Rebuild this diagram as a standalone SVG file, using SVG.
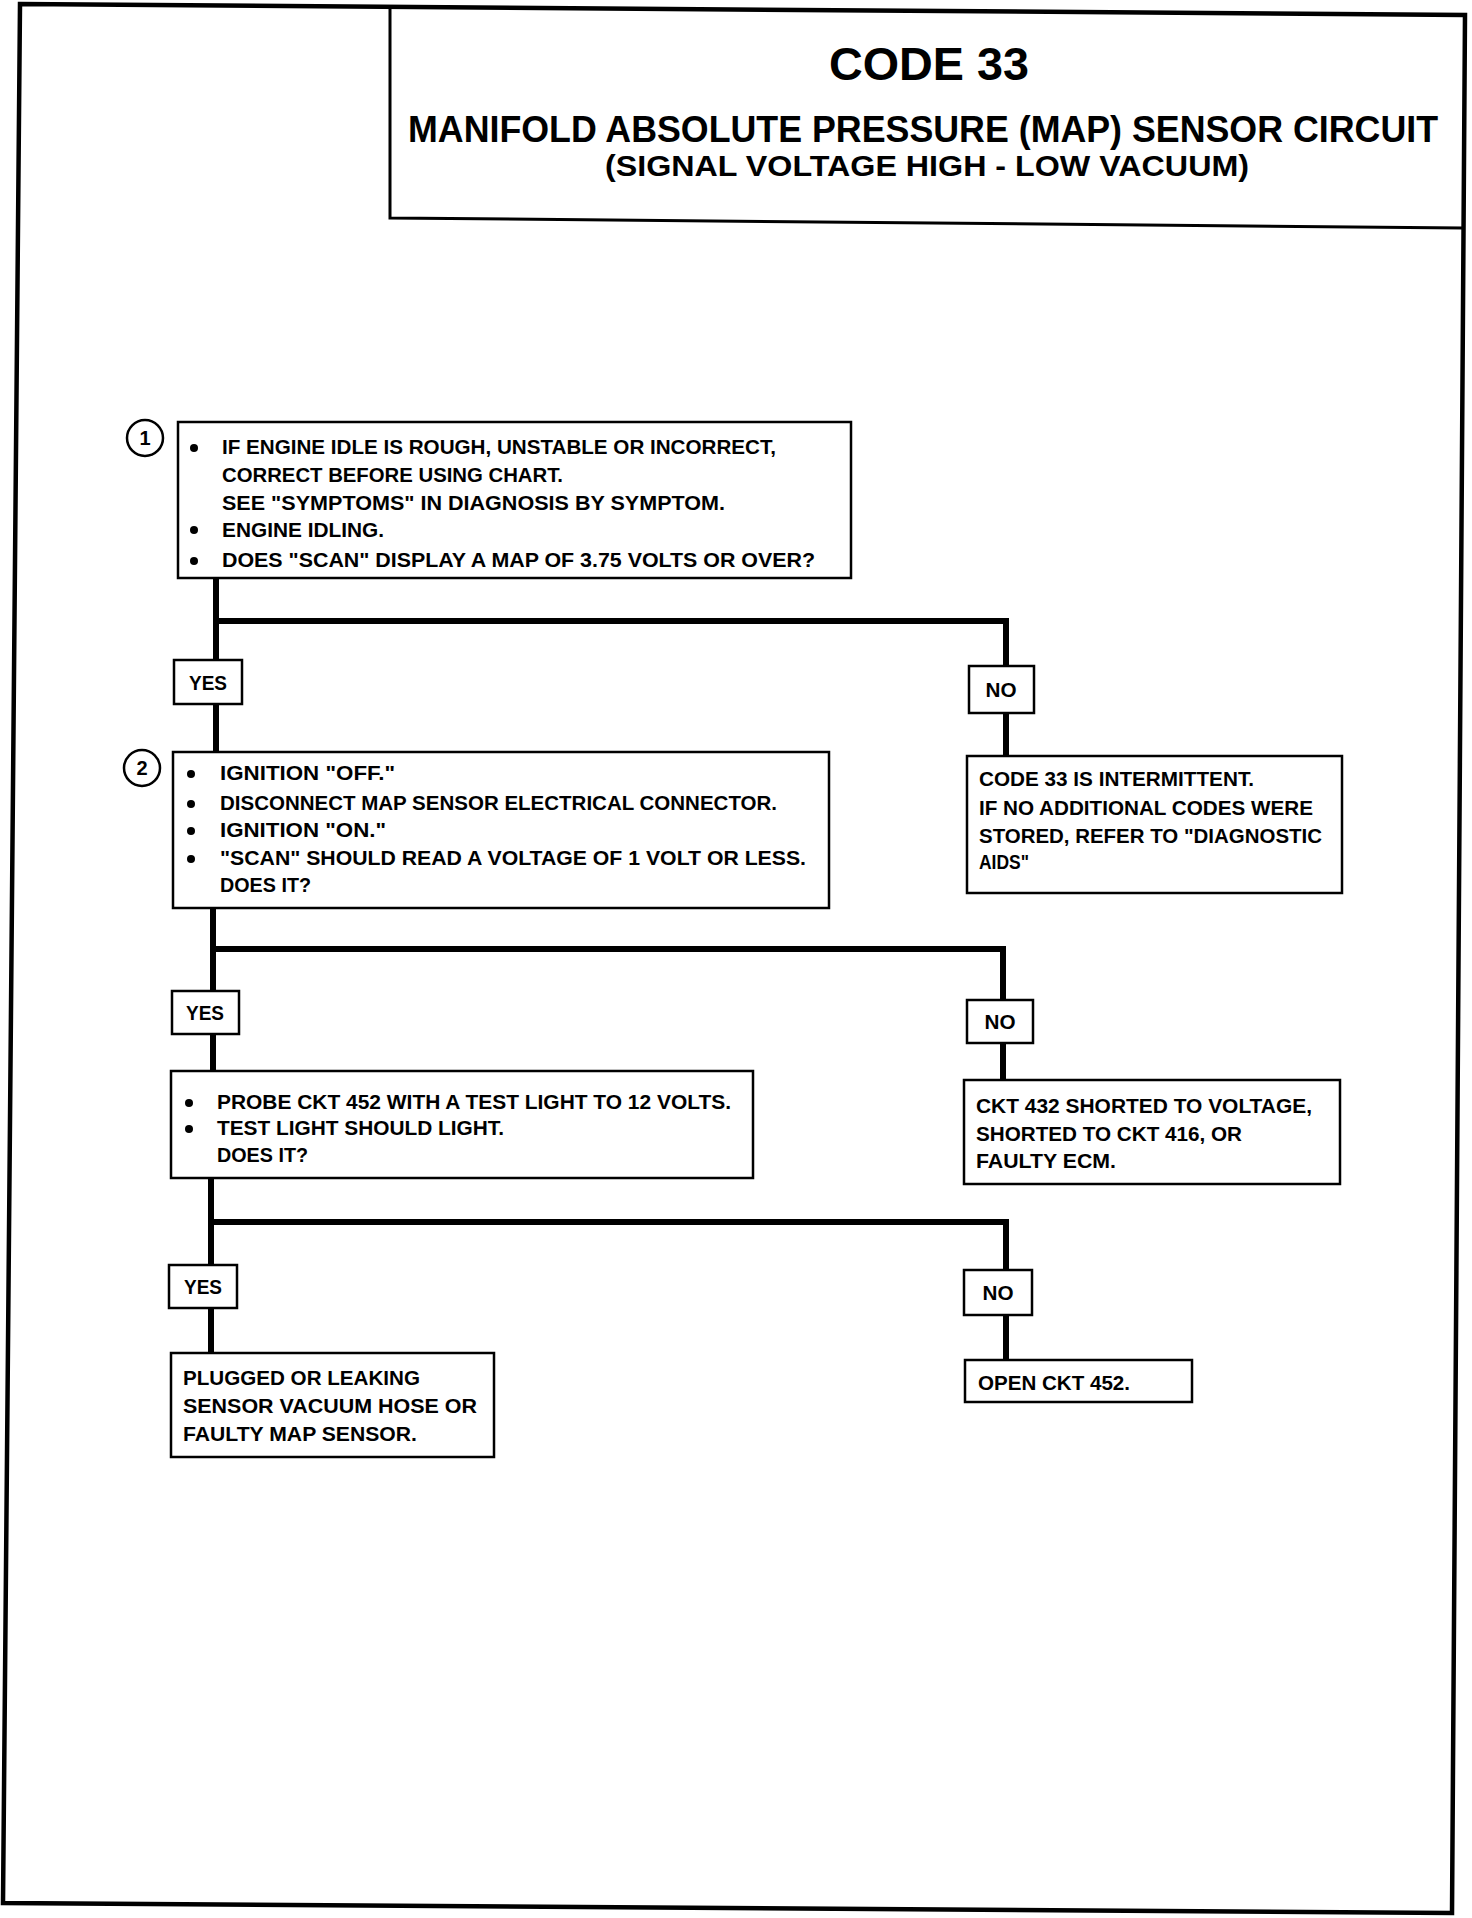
<svg xmlns="http://www.w3.org/2000/svg" width="1472" height="1918" viewBox="0 0 1472 1918">
<style>
.box{fill:#fff;stroke:#000;stroke-width:2.5}
.lbl{fill:#fff;stroke:#000;stroke-width:2.5}
.con{fill:none;stroke:#000;stroke-width:6;stroke-linejoin:miter}
.t{font-family:"Liberation Sans",Arial,sans-serif;font-weight:bold;font-size:20px;fill:#000}
.c{text-anchor:middle}
.h{font-family:"Liberation Sans",Arial,sans-serif;font-weight:bold;fill:#000}
.num{fill:#fff;stroke:#000;stroke-width:2.5}
</style>
<rect width="1472" height="1918" fill="#fff"/>
<g id="frame">
<path d="M20,4 L1465,15 L1452,1913 L3,1903 Z" fill="none" stroke="#000" stroke-width="4.5"/>
</g>
<g id="header">
<path d="M390,9 L390,218 L1463,228" fill="none" stroke="#000" stroke-width="3"/>
<text class="h c" x="929" y="80" font-size="46" textLength="200" lengthAdjust="spacingAndGlyphs">CODE 33</text>
<text class="h" x="408" y="142" font-size="37" textLength="1030" lengthAdjust="spacingAndGlyphs">MANIFOLD ABSOLUTE PRESSURE (MAP) SENSOR CIRCUIT</text>
<text class="h" x="605" y="176" font-size="29" textLength="644" lengthAdjust="spacingAndGlyphs">(SIGNAL VOLTAGE HIGH - LOW VACUUM)</text>
</g>
<g id="connectors">
<path class="con" d="M216,578 L216,660 M216,704 L216,752 M216,621 L1006,621 L1006,666 M1006,713 L1006,756"/>
<path class="con" d="M213,908 L213,991 M213,1034 L213,1071 M213,949 L1003,949 L1003,1000 M1003,1043 L1003,1080"/>
<path class="con" d="M211,1178 L211,1265 M211,1308 L211,1353 M211,1222 L1006,1222 L1006,1270 M1006,1315 L1006,1360"/>
</g>
<g id="step1">
<circle class="num" cx="145" cy="438" r="18"/>
<text class="t c" x="145" y="445" font-size="19">1</text>
<rect class="box" x="178" y="422" width="673" height="156"/>
<circle cx="194" cy="448" r="4"/><circle cx="194" cy="530" r="4"/><circle cx="194" cy="561" r="4"/>
<text class="t" x="222" y="454" textLength="554" lengthAdjust="spacingAndGlyphs">IF ENGINE IDLE IS ROUGH, UNSTABLE OR INCORRECT,</text>
<text class="t" x="222" y="482" textLength="341" lengthAdjust="spacingAndGlyphs">CORRECT BEFORE USING CHART.</text>
<text class="t" x="222" y="510" textLength="503" lengthAdjust="spacingAndGlyphs">SEE "SYMPTOMS" IN  DIAGNOSIS BY SYMPTOM.</text>
<text class="t" x="222" y="537" textLength="162" lengthAdjust="spacingAndGlyphs">ENGINE IDLING.</text>
<text class="t" x="222" y="567" textLength="593" lengthAdjust="spacingAndGlyphs">DOES "SCAN" DISPLAY A MAP OF 3.75  VOLTS OR OVER?</text>
</g>
<g id="yes1">
<rect class="lbl" x="174" y="660" width="68" height="44"/>
<text class="t c" x="208" y="690" textLength="38" lengthAdjust="spacingAndGlyphs">YES</text>
</g>
<g id="no1">
<rect class="lbl" x="969" y="666" width="65" height="47"/>
<text class="t c" x="1001" y="697" textLength="31" lengthAdjust="spacingAndGlyphs">NO</text>
</g>
<g id="step2">
<circle class="num" cx="142" cy="768" r="18"/>
<text class="t c" x="142" y="775" font-size="19">2</text>
<rect class="box" x="173" y="752" width="656" height="156"/>
<circle cx="191" cy="774" r="4"/><circle cx="191" cy="804" r="4"/><circle cx="191" cy="831" r="4"/><circle cx="191" cy="859" r="4"/>
<text class="t" x="220" y="780" textLength="175" lengthAdjust="spacingAndGlyphs">IGNITION "OFF."</text>
<text class="t" x="220" y="810" textLength="557" lengthAdjust="spacingAndGlyphs">DISCONNECT MAP SENSOR ELECTRICAL CONNECTOR.</text>
<text class="t" x="220" y="837" textLength="166" lengthAdjust="spacingAndGlyphs">IGNITION "ON."</text>
<text class="t" x="220" y="865" textLength="586" lengthAdjust="spacingAndGlyphs">"SCAN" SHOULD READ  A VOLTAGE OF 1 VOLT OR LESS.</text>
<text class="t" x="220" y="892" textLength="91" lengthAdjust="spacingAndGlyphs">DOES IT?</text>
</g>
<g id="intermittent">
<rect class="box" x="967" y="756" width="375" height="137"/>
<text class="t" x="979" y="786" textLength="275" lengthAdjust="spacingAndGlyphs">CODE 33 IS INTERMITTENT.</text>
<text class="t" x="979" y="815" textLength="334" lengthAdjust="spacingAndGlyphs">IF NO ADDITIONAL CODES WERE</text>
<text class="t" x="979" y="843" textLength="343" lengthAdjust="spacingAndGlyphs">STORED, REFER TO "DIAGNOSTIC</text>
<text class="t" x="979" y="869" textLength="50" lengthAdjust="spacingAndGlyphs">AIDS"</text>
</g>
<g id="yes2">
<rect class="lbl" x="172" y="991" width="67" height="43"/>
<text class="t c" x="205" y="1020" textLength="38" lengthAdjust="spacingAndGlyphs">YES</text>
</g>
<g id="no2">
<rect class="lbl" x="967" y="1000" width="66" height="43"/>
<text class="t c" x="1000" y="1029" textLength="31" lengthAdjust="spacingAndGlyphs">NO</text>
</g>
<g id="step3">
<rect class="box" x="171" y="1071" width="582" height="107"/>
<circle cx="189" cy="1103" r="4"/><circle cx="189" cy="1129" r="4"/>
<text class="t" x="217" y="1109" textLength="514" lengthAdjust="spacingAndGlyphs">PROBE CKT 452 WITH A TEST LIGHT TO 12 VOLTS.</text>
<text class="t" x="217" y="1135" textLength="287" lengthAdjust="spacingAndGlyphs">TEST LIGHT SHOULD LIGHT.</text>
<text class="t" x="217" y="1162" textLength="91" lengthAdjust="spacingAndGlyphs">DOES IT?</text>
</g>
<g id="shorted">
<rect class="box" x="964" y="1080" width="376" height="104"/>
<text class="t" x="976" y="1113" textLength="336" lengthAdjust="spacingAndGlyphs">CKT 432 SHORTED TO VOLTAGE,</text>
<text class="t" x="976" y="1141" textLength="266" lengthAdjust="spacingAndGlyphs">SHORTED TO CKT 416, OR</text>
<text class="t" x="976" y="1168" textLength="140" lengthAdjust="spacingAndGlyphs">FAULTY ECM.</text>
</g>
<g id="yes3">
<rect class="lbl" x="169" y="1265" width="68" height="43"/>
<text class="t c" x="203" y="1294" textLength="38" lengthAdjust="spacingAndGlyphs">YES</text>
</g>
<g id="no3">
<rect class="lbl" x="964" y="1270" width="68" height="45"/>
<text class="t c" x="998" y="1300" textLength="31" lengthAdjust="spacingAndGlyphs">NO</text>
</g>
<g id="plugged">
<rect class="box" x="171" y="1353" width="323" height="104"/>
<text class="t" x="183" y="1385" textLength="237" lengthAdjust="spacingAndGlyphs">PLUGGED OR LEAKING</text>
<text class="t" x="183" y="1413" textLength="294" lengthAdjust="spacingAndGlyphs">SENSOR  VACUUM HOSE OR</text>
<text class="t" x="183" y="1441" textLength="234" lengthAdjust="spacingAndGlyphs">FAULTY MAP SENSOR.</text>
</g>
<g id="open452">
<rect class="box" x="965" y="1360" width="227" height="42"/>
<text class="t" x="978" y="1390" textLength="152" lengthAdjust="spacingAndGlyphs">OPEN CKT 452.</text>
</g>
</svg>
